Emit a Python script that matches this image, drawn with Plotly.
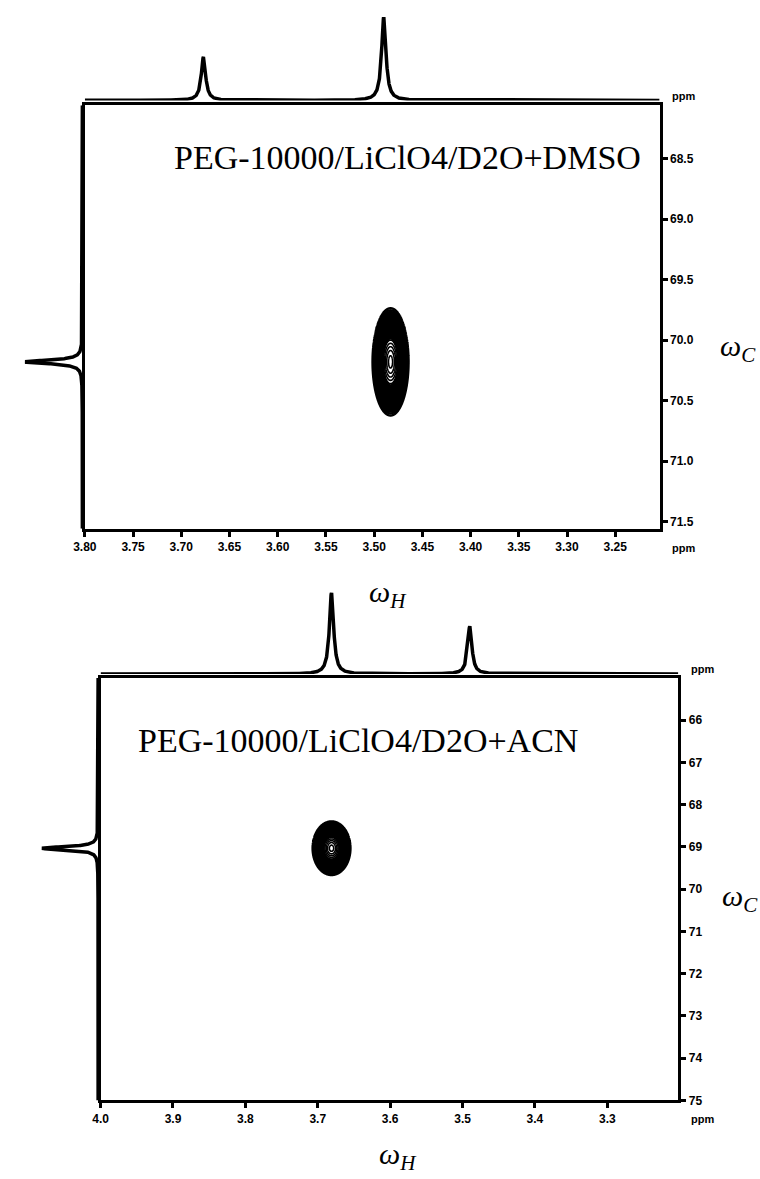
import numpy as np
import plotly.graph_objects as go

W, H = 760, 1179

# ---------------- data ----------------
# Panel A: PEG-10000/LiClO4/D2O+DMSO
a_title = "PEG-10000/LiClO4/D2O+DMSO"
a_h_range = [3.80, 3.204]
a_c_range = [71.56, 68.06]
a_h_ticks = [3.80, 3.75, 3.70, 3.65, 3.60, 3.55, 3.50, 3.45, 3.40, 3.35, 3.30, 3.25]
a_c_ticks = [68.5, 69.0, 69.5, 70.0, 70.5, 71.0, 71.5]
a_h_peak_pos = [3.677, 3.490]        # 1H projection peaks (ppm)
a_h_peak_height = [0.52, 1.00]
a_h_peak_hwhm = [0.0027, 0.0027]
a_c_peak_pos = [70.18]               # 13C projection peak (ppm)
a_c_peak_height = [1.00]
a_c_peak_hwhm = [0.018]
a_xpk_h = [3.483]                    # 2D cross peak centre
a_xpk_c = [70.18]
a_xpk_sh = [0.0075]                  # width (sigma) in H
a_xpk_sc = [0.178]                   # width (sigma) in C

# Panel B: PEG-10000/LiClO4/D2O+ACN
b_title = "PEG-10000/LiClO4/D2O+ACN"
b_h_range = [4.0, 3.202]
b_c_range = [75.0, 65.0]
b_h_ticks = [4.0, 3.9, 3.8, 3.7, 3.6, 3.5, 3.4, 3.3]
b_c_ticks = [66, 67, 68, 69, 70, 71, 72, 73, 74, 75]
b_h_peak_pos = [3.681, 3.490]
b_h_peak_height = [1.00, 0.585]
b_h_peak_hwhm = [0.0035, 0.0035]
b_c_peak_pos = [69.03]
b_c_peak_height = [1.00]
b_c_peak_hwhm = [0.045]
b_xpk_h = [3.681]
b_xpk_c = [69.03]
b_xpk_sh = [0.0105]
b_xpk_sc = [0.255]

# contour levels (fraction of cross-peak maximum): dense outside, sparse inside
outer_levels = dict(start=0.045, end=0.55, size=0.012)
inner_levels = dict(start=0.60, end=0.98, size=0.09)


def px(x):
    return x / W


def py(y):
    return 1 - y / H


def lorentz(grid, pos, hgt, hw):
    out = np.zeros_like(grid)
    for p, h, w in zip(pos, hgt, hw):
        out += h / (1 + ((grid - p) / w) ** 2)
    return out


def cross(hc, cc, sh, sc):
    hg = np.linspace(hc - 3.2 * sh, hc + 3.2 * sh, 301)
    cg = np.linspace(cc - 3.2 * sc, cc + 3.2 * sc, 301)
    HH, CC = np.meshgrid(hg, cg)
    Z = np.exp(-((HH - hc) ** 2) / (2 * sh ** 2) - ((CC - cc) ** 2) / (2 * sc ** 2))
    return hg, cg, Z


fig = go.Figure()

SANS = "Liberation Sans, Arial, sans-serif"
SERIF = "Liberation Serif, DejaVu Serif, serif"
tickfont = dict(family=SANS, size=12, color="black", weight="bold")
ppmfont = dict(family=SANS, size=11, color="black", weight="bold")
LINEW = 3
PROJW = 3.5


def add_panel(n0, title, h_range, c_range, h_ticks, c_ticks, h_fmt,
              hp, hh, hw, cp, ch, cw, xh, xc, xsh, xsc,
              frame_l, frame_r, frame_t, frame_b, top_base, top_tip, left_tip, left_base,
              title_xy, wh_xy, wc_xy):
    xa = f"x{'' if n0 == 1 else n0}"
    ya = f"y{'' if n0 == 1 else n0}"
    xt, yt = f"x{n0+1}", f"y{n0+1}"
    xl, yl = f"x{n0+2}", f"y{n0+2}"

    # 2D contours
    for a, b, s1, s2 in zip(xh, xc, xsh, xsc):
        hg, cg, Z = cross(a, b, s1, s2)
        fig.add_trace(go.Contour(
            x=hg, y=cg, z=Z, xaxis=xa, yaxis=ya,
            contours=dict(**outer_levels, coloring="none"),
            line=dict(color="black", width=2.4, smoothing=1),
            showscale=False, hoverinfo="skip"))
        fig.add_trace(go.Contour(
            x=hg, y=cg, z=Z, xaxis=xa, yaxis=ya,
            contours=dict(**inner_levels, coloring="none"),
            line=dict(color="black", width=1.6, smoothing=1),
            showscale=False, hoverinfo="skip"))

    # top 1H projection
    hgrid = np.linspace(min(h_range), max(h_range), 4000)
    fig.add_trace(go.Scatter(x=hgrid, y=lorentz(hgrid, hp, hh, hw), mode="lines",
                             line=dict(color="black", width=PROJW), xaxis=xt, yaxis=yt,
                             hoverinfo="skip"))
    # left 13C projection
    cgrid = np.linspace(min(c_range), max(c_range), 4000)
    fig.add_trace(go.Scatter(x=lorentz(cgrid, cp, ch, cw), y=cgrid, mode="lines",
                             line=dict(color="black", width=PROJW), xaxis=xl, yaxis=yl,
                             hoverinfo="skip"))

    k = lambda a, i: f"{a}axis{'' if i == 1 else i}"
    fig.update_layout({
        k("x", n0): dict(domain=[px(frame_l), px(frame_r)], range=h_range, anchor=ya,
                         tickvals=h_ticks, ticktext=[h_fmt % v for v in h_ticks],
                         ticks="outside", ticklen=5, tickwidth=3, tickcolor="black",
                         showline=True, linewidth=LINEW, linecolor="black", mirror=True,
                         showgrid=False, zeroline=False, tickfont=tickfont),
        k("y", n0): dict(domain=[py(frame_b), py(frame_t)], range=c_range, anchor=xa,
                         side="right", tickvals=c_ticks,
                         ticktext=[("%.1f" % v) if isinstance(v, float) else str(v) for v in c_ticks],
                         ticks="outside", ticklen=5, tickwidth=3, tickcolor="black",
                         showline=True, linewidth=LINEW, linecolor="black", mirror=True,
                         showgrid=False, zeroline=False, tickfont=tickfont),
        k("x", n0 + 1): dict(domain=[px(frame_l), px(frame_r)], range=h_range, anchor=yt,
                             visible=False),
        k("y", n0 + 1): dict(domain=[py(top_base), py(top_tip)], range=[0, 1], anchor=xt,
                             visible=False),
        k("x", n0 + 2): dict(domain=[px(left_tip), px(left_base)], range=[1, 0], anchor=yl,
                             visible=False),
        k("y", n0 + 2): dict(domain=[py(frame_b), py(frame_t)], range=c_range, anchor=xl,
                             visible=False),
    })

    fig.add_annotation(x=px(title_xy[0]), y=py(title_xy[1]), xref="paper", yref="paper",
                       text=title, showarrow=False, xanchor="center", yanchor="middle",
                       font=dict(family=SERIF, size=34, color="black"))
    fig.add_annotation(x=px(wh_xy[0]), y=py(wh_xy[1]), xref="paper", yref="paper",
                       text="<i>ω</i><sub><i>H</i></sub>", showarrow=False,
                       xanchor="center", yanchor="middle",
                       font=dict(family=SERIF, size=30, color="black"))
    fig.add_annotation(x=px(wc_xy[0]), y=py(wc_xy[1]), xref="paper", yref="paper",
                       text="<i>ω</i><sub><i>C</i></sub>", showarrow=False,
                       xanchor="center", yanchor="middle",
                       font=dict(family=SERIF, size=30, color="black"))
    # ppm labels
    fig.add_annotation(x=px(frame_r + 11), y=py(frame_b + 19), xref="paper", yref="paper",
                       text="ppm", showarrow=False, xanchor="left", yanchor="middle",
                       font=ppmfont)
    fig.add_annotation(x=px(frame_r + 11), y=py(frame_t - 9), xref="paper", yref="paper",
                       text="ppm", showarrow=False, xanchor="left", yanchor="middle",
                       font=ppmfont)


add_panel(1, a_title, a_h_range, a_c_range, a_h_ticks, a_c_ticks, "%.2f",
          a_h_peak_pos, a_h_peak_height, a_h_peak_hwhm,
          a_c_peak_pos, a_c_peak_height, a_c_peak_hwhm,
          a_xpk_h, a_xpk_c, a_xpk_sh, a_xpk_sc,
          frame_l=74, frame_r=658, frame_t=106, frame_b=532,
          top_base=101, top_tip=17, left_tip=13, left_base=71.5,
          title_xy=(402, 158), wh_xy=(382, 598), wc_xy=(738, 350))

add_panel(4, b_title, b_h_range, b_c_range, b_h_ticks, b_c_ticks, "%.1f",
          b_h_peak_pos, b_h_peak_height, b_h_peak_hwhm,
          b_c_peak_pos, b_c_peak_height, b_c_peak_hwhm,
          b_xpk_h, b_xpk_c, b_xpk_sh, b_xpk_sc,
          frame_l=90, frame_r=677, frame_t=682, frame_b=1107,
          top_base=678, top_tip=596, left_tip=30, left_base=87.5,
          title_xy=(352, 745), wh_xy=(392, 1163), wc_xy=(740, 903))

fig.update_layout(width=W, height=H, margin=dict(l=0, r=0, t=0, b=0),
                  paper_bgcolor="white", plot_bgcolor="white", showlegend=False)

fig.write_html("out.html")
